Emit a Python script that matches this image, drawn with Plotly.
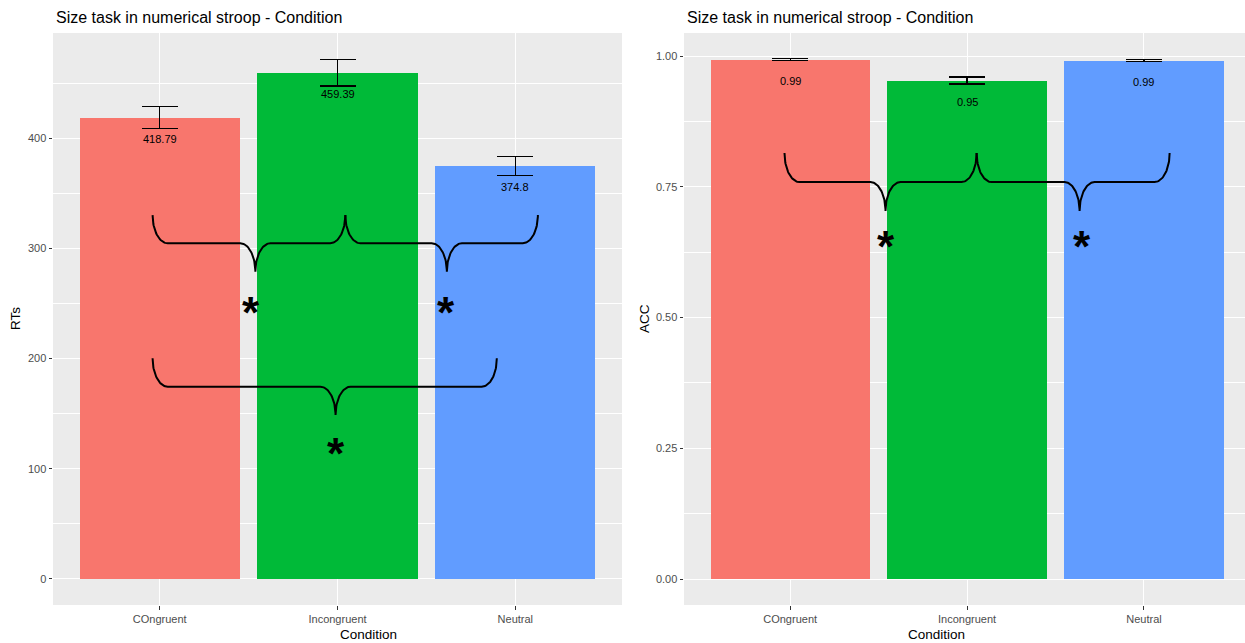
import numpy as np
import plotly.graph_objects as go

# ---- data -------------------------------------------------------------
conditions = ["COngruent", "Incongruent", "Neutral"]
bar_colors = ["#F8766D", "#00BA38", "#619CFF"]

rt_mean = [418.79, 459.39, 374.8]
rt_se = [10.2, 11.9, 8.9]

acc_mean = [0.993, 0.953, 0.991]
acc_se = [0.002, 0.0067, 0.002]

# significance braces: (x_start, x_end, x_tip, y_top, y_mid, y_tip)
rt_braces = [
    (0.960, 2.044, 1.538, 330.3, 304.7, 278.9),
    (2.044, 3.127, 2.615, 330.3, 304.7, 278.9),
    (0.960, 2.896, 1.989, 200.3, 174.5, 148.8),
]
rt_stars = [(1.515, 247.1), (2.608, 247.1), (1.993, 118.9)]

acc_braces = [
    (0.968, 2.054, 1.539, 0.8145, 0.759, 0.7036),
    (2.054, 3.145, 2.636, 0.8145, 0.759, 0.7036),
]
acc_stars = [(1.539, 0.648), (2.647, 0.648)]

TITLE = "Size task in numerical stroop - Condition"

# ---- helpers ------------------------------------------------------------
FONT = "Liberation Sans, Arial, sans-serif"
W, H = 1245, 643
xpos = [1, 2, 3]


def brace_path(xa, xb, xm, y0, y1, y2, rx=0.085, n=30):
    """Curly brace opening upward, pointing down at (xm, y2)."""
    ry1 = y0 - y1
    ry2 = y1 - y2
    xs, ys = [], []

    def arc(cx, cy, ax, ay, t0, t1):
        t = np.linspace(t0, t1, n)
        xs.extend(cx + ax * np.cos(t))
        ys.extend(cy + ay * np.sin(t))

    arc(xa + rx, y0, rx, ry1, np.pi, 1.5 * np.pi)
    arc(xm - rx, y2, rx, ry2, 0.5 * np.pi, 0.0)
    arc(xm + rx, y2, rx, ry2, np.pi, 0.5 * np.pi)
    arc(xb - rx, y0, rx, ry1, 1.5 * np.pi, 2.0 * np.pi)
    return xs, ys


fig = go.Figure()


def add_panel(xa, ya, means, ses, labels, braces, stars):
    fig.add_trace(go.Bar(
        x=xpos, y=means, width=0.9,
        marker=dict(color=bar_colors, line=dict(width=0)),
        error_y=dict(type="data", array=ses, visible=True,
                     color="black", thickness=1.3, width=18),
        xaxis=xa, yaxis=ya, showlegend=False, hoverinfo="skip",
    ))
    for x, m, lab in zip(xpos, means, labels):
        fig.add_annotation(x=x, y=m, xref=xa, yref=ya, text=lab,
                           showarrow=False, yanchor="middle", yshift=-21,
                           font=dict(family=FONT, size=11, color="black"))
    for b in braces:
        bx, by = brace_path(*b)
        fig.add_trace(go.Scatter(x=bx, y=by, mode="lines",
                                 line=dict(color="black", width=2),
                                 xaxis=xa, yaxis=ya, showlegend=False,
                                 hoverinfo="skip"))
    for sx, sy in stars:
        fig.add_annotation(x=sx, y=sy, xref=xa, yref=ya, text="<b>*</b>",
                           showarrow=False, yanchor="middle", yshift=-6,
                           font=dict(family=FONT, size=44, color="black"))


add_panel("x", "y", rt_mean, rt_se, [f"{v:g}" for v in rt_mean],
          rt_braces, rt_stars)
add_panel("x2", "y2", acc_mean, acc_se, [f"{v:.2f}" for v in acc_mean],
          acc_braces, acc_stars)

ydom = [38 / H, 610 / H]
axis_common = dict(
    showline=False, zeroline=False, ticks="outside", ticklen=3.5,
    tickwidth=1, tickcolor="#333333",
    tickfont=dict(family=FONT, size=11, color="#4D4D4D"),
    showgrid=True, gridcolor="white", gridwidth=1.1,
)

fig.update_layout(
    width=W, height=H,
    margin=dict(l=0, r=0, t=0, b=0),
    paper_bgcolor="white", plot_bgcolor="#EBEBEB",
    bargap=0,
    xaxis=dict(domain=[53 / W, 622 / W], range=[0.4, 3.6],
               tickvals=xpos, ticktext=conditions, **axis_common),
    yaxis=dict(domain=ydom, range=[-23.6, 495.5], tickvals=[0, 100, 200, 300, 400],
               minor=dict(dtick=50, tick0=0, showgrid=True, gridcolor="white",
                          gridwidth=0.5, ticks=""),
               **axis_common),
    xaxis2=dict(domain=[684 / W, 1.0], range=[0.4, 3.571], anchor="y2",
                tickvals=xpos, ticktext=conditions, **axis_common),
    yaxis2=dict(domain=ydom, range=[-0.0497, 1.044], anchor="x2",
                tickvals=[0, 0.25, 0.5, 0.75, 1.0], tickformat=".2f",
                minor=dict(dtick=0.125, tick0=0, showgrid=True, gridcolor="white",
                           gridwidth=0.5, ticks=""),
                **axis_common),
)

# titles and axis titles
for x0 in (54, 685):
    fig.add_annotation(x=x0 / W, y=1 - 17 / H, xref="paper", yref="paper",
                       text=TITLE, showarrow=False, xanchor="left", yanchor="middle",
                       font=dict(family=FONT, size=16, color="black"))
for xc in (337.5, 967):
    fig.add_annotation(x=xc / W, y=1 - 634 / H, xref="paper", yref="paper",
                       text="Condition", showarrow=False, yanchor="middle",
                       font=dict(family=FONT, size=13.5, color="black"))
for xc, t in ((15, "RTs"), (644, "ACC")):
    fig.add_annotation(x=xc / W, y=1 - 319 / H, xref="paper", yref="paper",
                       text=t, showarrow=False, textangle=-90,
                       xanchor="center", yanchor="middle",
                       font=dict(family=FONT, size=13.5, color="black"))

fig.write_html("out.html")
